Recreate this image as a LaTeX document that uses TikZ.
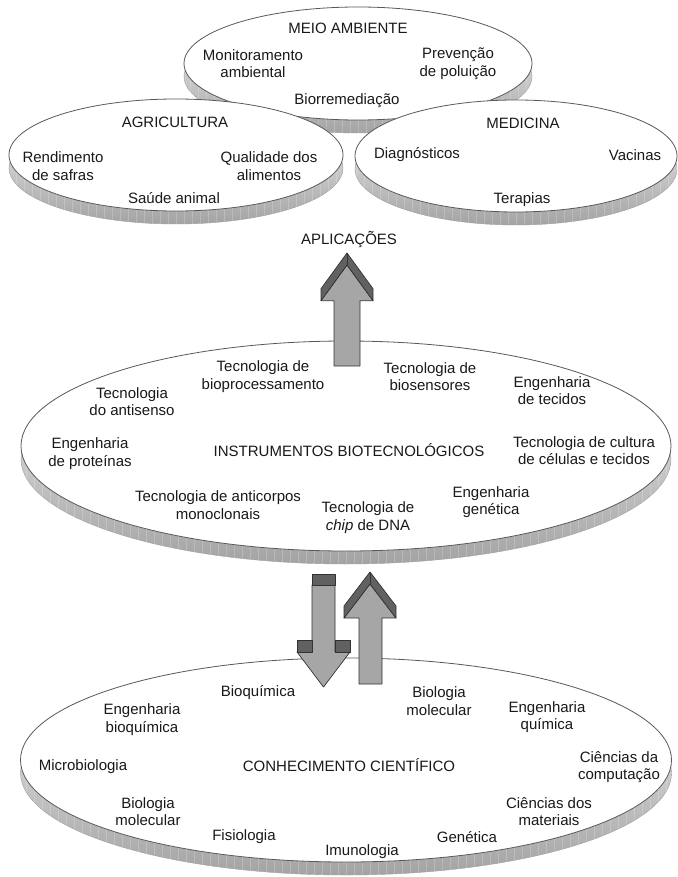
\documentclass[tikz,border=0pt]{standalone}
\usepackage{fontspec}
\setmainfont{Liberation Sans}
\newcommand\biodisc[4]{%
  \begin{scope}
    \path[shade, top color=gray!10, bottom color=gray!72, draw=gray!75] (#1,#2+13) ellipse [x radius=#3, y radius=#4];
    \clip (#1,#2+13) ellipse [x radius=#3, y radius=#4];
    \foreach \k in {-42,...,42} \draw[white, opacity=.2, line width=.4] (#1+\k*8, #2) -- (#1+\k*8, #2+#4+16);
  \end{scope}
  \draw[gray!70!black, fill=white, line width=.8] (#1,#2) ellipse [x radius=#3, y radius=#4];
}
\tikzset{
  lbl/.style={font=\fontsize{15}{17.5}\selectfont, align=center, inner sep=0pt, text=black!90},
  frontface/.style={fill=gray!70, draw=black!80, line width=.7, line join=round},
  darkface/.style={fill=black!62, draw=black!80, line width=.7, line join=round}
}
\begin{document}
\begin{tikzpicture}[x=1pt,y=-1pt]
\useasboundingbox (0,0) rectangle (677,877);
\fill[white] (0,0) rectangle (677,877);

% top discs
\biodisc{358}{63.5}{174}{56.5}
\biodisc{176}{155}{167}{56}
\biodisc{516}{156}{161}{56}

\node[lbl] (ma) at (348,28) {MEIO AMBIENTE};
\node[lbl] (ma1) at (253,63.5) {Monitoramento\\ambiental};
\node[lbl] (ma2) at (458,63.5) {Prevenção\\de poluição};
\node[lbl] (ma3) at (347,101) {Biorremediação};

\node[lbl] (ag) at (175,122) {AGRICULTURA};
\node[lbl] (ag1) at (63,166) {Rendimento\\de safras};
\node[lbl] (ag2) at (269,166) {Qualidade dos\\alimentos};
\node[lbl] (ag3) at (174,198) {Saúde animal};

\node[lbl] (me) at (523,123) {MEDICINA};
\node[lbl] (me1) at (417,155) {Diagnósticos};
\node[lbl] (me2) at (635,155) {Vacinas};
\node[lbl] (me3) at (522,200) {Terapias};

\node[lbl] (apl) at (349,240) {APLICAÇÕES};

% middle disc
\biodisc{346}{446}{325}{105}

% up arrow 1
\path[frontface] (334,366) -- (334,300.7) -- (321,300.7) -- (347,265) -- (373,300.7) -- (360,300.7) -- (360,366) -- cycle;
\path[darkface] (321,300.7) -- (321,288.7) -- (347,253) -- (373,288.7) -- (373,300.7) -- (347,265) -- cycle;
\draw[black!80, line width=.7] (347,253) -- (347,265);

\node[lbl] (i0) at (349,450) {INSTRUMENTOS BIOTECNOLÓGICOS};
\node[lbl] (i1) at (263,376.5) {Tecnologia de\\bioprocessamento};
\node[lbl] (i2) at (430,376.5) {Tecnologia de\\biosensores};
\node[lbl] (i3) at (132,401.5) {Tecnologia\\do antisenso};
\node[lbl] (i4) at (552,390.5) {Engenharia\\de tecidos};
\node[lbl] (i5) at (90,453.5) {Engenharia\\de proteínas};
\node[lbl] (i6) at (584,450.5) {Tecnologia de cultura\\de células e tecidos};
\node[lbl] (i7) at (218,505) {Tecnologia de anticorpos\\monoclonais};
\node[lbl] (i8) at (368,517.5) {Tecnologia de\\\textit{chip} de DNA};
\node[lbl] (i9) at (491,502) {Engenharia\\genética};

% bottom disc
\biodisc{346}{760}{325.5}{102}

% down arrow
\path[frontface] (312,585) -- (312,652) -- (297,652) -- (323.5,687) -- (350,652) -- (335,652) -- (335,585) -- cycle;
\path[darkface] (312,574) rectangle (335,585);
\path[darkface] (297,640) rectangle (312,652);
\path[darkface] (335,640) rectangle (350,652);

% up arrow 2
\path[frontface] (359,684) -- (359,618) -- (344,618) -- (370,584) -- (396,618) -- (382,618) -- (382,684) -- cycle;
\path[darkface] (344,618) -- (344,606) -- (370,572) -- (396,606) -- (396,618) -- (370,584) -- cycle;
\draw[black!80, line width=.7] (370,572) -- (370,584);

\node[lbl] (c0) at (349,765) {CONHECIMENTO CIENTÍFICO};
\node[lbl] (c1) at (258,693) {Bioquímica};
\node[lbl] (c2) at (439,701) {Biologia\\molecular};
\node[lbl] (c3) at (142,719.5) {Engenharia\\bioquímica};
\node[lbl] (c4) at (547,717) {Engenharia\\química};
\node[lbl] (c5) at (83,767) {Microbiologia};
\node[lbl] (c6) at (619,767) {Ciências da\\computação};
\node[lbl] (c7) at (148,811.5) {Biologia\\molecular};
\node[lbl] (c8) at (549,811.5) {Ciências dos\\materiais};
\node[lbl] (c9) at (244,837) {Fisiologia};
\node[lbl] (c10) at (467,837) {Genética};
\node[lbl] (c11) at (362,852) {Imunologia};
\end{tikzpicture}
\end{document}
